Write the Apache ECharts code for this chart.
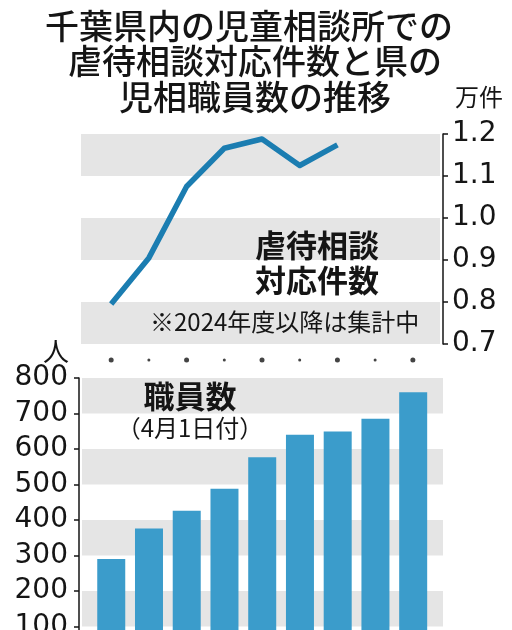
<!DOCTYPE html>
<html>
<head>
<meta charset="utf-8">
<script src="https://cdn.jsdelivr.net/npm/echarts@6/dist/echarts.min.js"></script>
<style>
html,body{margin:0;padding:0;background:#fff;}
#c{width:512px;height:630px;}
</style>
</head>
<body>
<div id="c"></div>
<script>
// ---- data ----
var categories = ['2017','2018','2019','2020','2021','2022','2023','2024','2025'];
var consultations = [0.795, 0.905, 1.075, 1.166, 1.188, 1.125, 1.174]; // 万件
var staff = [290, 376, 426, 488, 577, 640, 649, 685, 760]; // 人
var lineTicks = [0.7, 0.8, 0.9, 1.0, 1.1, 1.2];
var barTicks = [0, 100, 200, 300, 400, 500, 600, 700, 800];

var CJK = "'Noto Sans CJK JP', 'Noto Sans', sans-serif";
var NUM = "'DejaVu Sans', sans-serif";
var GRAY = '#e5e5e5';
var INK = '#151515';

var chart = echarts.init(document.getElementById('c'), null, {renderer: 'canvas'});

var lineData = consultations.map(function (v, i) { return [i, v]; });
var barData = staff.map(function (v, i) { return [i, v]; });
var dotData = categories.map(function (c, i) { return [i, 0]; });

function txt(text, x, y, size, weight, align) {
  return {
    type: 'text', x: x, y: y, silent: true, z: 100, zlevel: 0,
    style: {
      text: text, fill: INK, textAlign: align || 'left', textVerticalAlign: 'middle',
      font: (weight || 'normal') + ' ' + size + 'px ' + CJK
    }
  };
}

var option = {
  backgroundColor: '#fff',
  animation: false,
  grid: [
    {left: 81, right: 72, top: 134, height: 210, outerBoundsMode: 'none', containLabel: false},
    {left: 82, right: 69, top: 378, height: 284, outerBoundsMode: 'none', containLabel: false},
    {left: 81, right: 72, top: 355, height: 10, outerBoundsMode: 'none', containLabel: false}
  ],
  xAxis: [
    {gridIndex: 0, type: 'value', min: -0.80, max: 8.72, show: false},
    {gridIndex: 1, type: 'value', min: -0.775, max: 8.79, show: false},
    {gridIndex: 2, type: 'value', min: -0.80, max: 8.72, show: false}
  ],
  yAxis: [
    {
      gridIndex: 0, type: 'value', position: 'right', offset: 3,
      min: lineTicks[0], max: lineTicks[lineTicks.length - 1], interval: 0.1,
      axisLine: {show: true, onZero: false, lineStyle: {color: INK, width: 1.5}},
      axisTick: {show: true, inside: false, length: 5, lineStyle: {color: INK, width: 1.5}},
      axisLabel: {
        margin: 9, color: INK, fontSize: 28, fontFamily: NUM,
        formatter: function (v) { return v.toFixed(1); }
      },
      splitLine: {show: false},
      splitArea: {show: true, areaStyle: {color: [GRAY, 'rgba(255,255,255,0)']}}
    },
    {
      gridIndex: 1, type: 'value', position: 'left', offset: 3,
      min: barTicks[0], max: barTicks[barTicks.length - 1], interval: 100,
      axisLine: {show: true, onZero: false, lineStyle: {color: INK, width: 1.5}},
      axisTick: {show: true, inside: false, length: 5, lineStyle: {color: INK, width: 1.5}},
      axisLabel: {margin: 11, color: INK, fontSize: 28, fontFamily: NUM},
      splitLine: {show: false},
      splitArea: {show: true, areaStyle: {color: ['rgba(255,255,255,0)', GRAY]}}
    },
    {gridIndex: 2, type: 'value', min: -1, max: 1, show: false}
  ],
  series: [
    {
      type: 'line', xAxisIndex: 0, yAxisIndex: 0, data: lineData,
      symbol: 'none', lineStyle: {color: '#1b7db1', width: 5.5, join: 'round'}, z: 5
    },
    {
      type: 'bar', xAxisIndex: 1, yAxisIndex: 1, data: barData,
      barWidth: 28, itemStyle: {color: '#3b9ccb'}
    },
    {
      type: 'scatter', xAxisIndex: 2, yAxisIndex: 2, data: dotData,
      symbol: 'circle',
      symbolSize: function (v, p) { return p.dataIndex % 2 === 0 ? 5 : 3; },
      itemStyle: {color: INK}, clip: false
    }
  ],
  graphic: {
    elements: [
      txt('千葉県内の児童相談所での', 249, 26, 34, '500', 'center'),
      txt('虐待相談対応件数と県の', 255, 61, 34, '500', 'center'),
      txt('児相職員数の推移', 255, 97, 34, '500', 'center'),
      txt('万件', 455, 97, 24, 'normal', 'left'),
      txt('虐待相談', 255, 245, 31, 'bold', 'left'),
      txt('対応件数', 255, 280, 31, 'bold', 'left'),
      txt('※2024年度以降は集計中', 150, 322, 24, 'normal', 'left'),
      txt('人', 43, 351, 26, 'normal', 'left'),
      txt('職員数', 190, 396, 31, 'bold', 'center'),
      txt('（4月1日付）', 190, 428, 24, 'normal', 'center')
    ]
  }
};
chart.setOption(option);
</script>
</body>
</html>
